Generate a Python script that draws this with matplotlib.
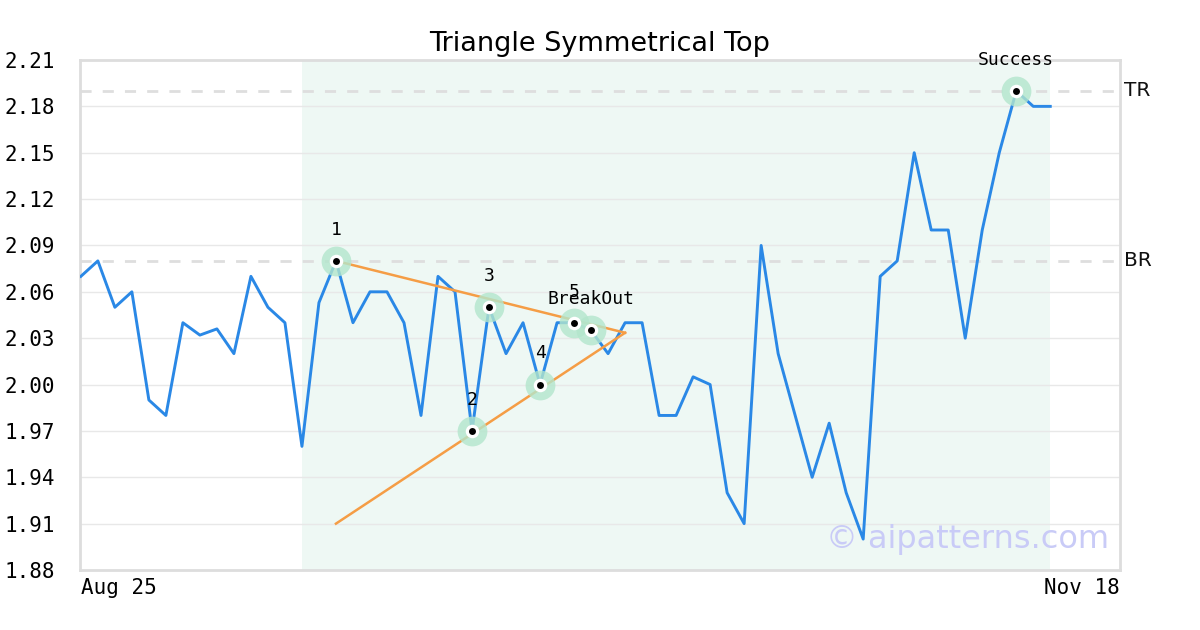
import matplotlib
matplotlib.use("Agg")
from matplotlib import pyplot as plt

# price series, one value per trading day
prices = [2.07, 2.08, 2.05, 2.06, 1.99, 1.98, 2.04, 2.032, 2.036, 2.02,
          2.07, 2.05, 2.04, 1.96, 2.053, 2.08, 2.04, 2.06, 2.06, 2.04,
          1.98, 2.07, 2.06, 1.97, 2.05, 2.02, 2.04, 2.00, 2.04, 2.04,
          2.035, 2.02, 2.04, 2.04, 1.98, 1.98, 2.005, 2.00, 1.93, 1.91,
          2.09, 2.02, 1.98, 1.94, 1.975, 1.93, 1.90, 2.07, 2.08, 2.15,
          2.10, 2.10, 2.03, 2.10, 2.15, 2.19, 2.18, 2.18]

# pattern pivots (index into prices) and their labels
pivot_idx = [15, 23, 24, 27, 29, 30, 55]
pivot_labels = ["1", "2", "3", "4", "5", "BreakOut", "Success"]

# triangle lines: (index, value) at start and apex
upper_line = [(15, 2.08), (32, 2.0335)]
lower_line = [(15, 1.91), (32, 2.0335)]

pattern_span = (13, 57)
levels = {"TR": 2.19, "BR": 2.08}
y_ticks = [1.88, 1.91, 1.94, 1.97, 2.00, 2.03, 2.06, 2.09, 2.12, 2.15, 2.18, 2.21]
x_tick_labels = ["Aug 25", "Nov 18"]
x_max = 61.1

mono = "DejaVu Sans Mono"
fig = plt.figure(figsize=(12, 6.3), dpi=100)
ax = fig.add_axes([80 / 1200, 60 / 630, 1040 / 1200, 510 / 630])

ax.axvspan(pattern_span[0], pattern_span[1], color="#eef8f4", zorder=0, lw=0)
for v in y_ticks:
    ax.axhline(v, color="#e8e8e8", lw=1, zorder=1)
for name, v in levels.items():
    ax.axhline(v, color="#dedede", lw=2, ls=(0, (4, 4)), zorder=1)
    ax.text(1.004, v, name, transform=ax.get_yaxis_transform(), va="center",
            ha="left", fontsize=14.5, color="#111111")

ax.plot(range(len(prices)), prices, color="#2a88e6", lw=2.1, zorder=3)

ax.plot([p[0] for p in upper_line], [p[1] for p in upper_line], color="#f59d45", lw=1.8, zorder=4)
ax.plot([p[0] for p in lower_line], [p[1] for p in lower_line], color="#f59d45", lw=1.8, zorder=4)

px = pivot_idx
py = [prices[i] for i in pivot_idx]
ax.scatter(px, py, s=460, color="#b3e6cc", alpha=0.8, lw=0, zorder=5)
ax.scatter(px, py, s=95, color="white", lw=0, zorder=6)
ax.scatter(px, py, s=25, color="black", lw=0, zorder=7)
for i, v, lab in zip(px, py, pivot_labels):
    ax.annotate(lab, (i, v), xytext=(0, 16), textcoords="offset points",
                ha="center", va="bottom", fontsize=13, family=mono, zorder=8)

ax.text(0.99, 0.03, "\u00a9 aipatterns.com", transform=ax.transAxes, ha="right",
        va="bottom", fontsize=23, color="#c9cbf7", zorder=2)

ax.set_xlim(-0.05, x_max)
ax.set_ylim(1.88, 2.21)
ax.set_yticks(y_ticks)
ax.set_yticklabels([f"{v:.2f}" for v in y_ticks], family=mono, fontsize=15)
ax.set_xticks([0, x_max])
ax.set_xticklabels(x_tick_labels, family=mono, fontsize=15)
ax.get_xticklabels()[0].set_ha("left")
ax.get_xticklabels()[1].set_ha("right")
ax.tick_params(axis="y", length=0, pad=18)
ax.tick_params(axis="x", length=0, pad=6)
for s in ax.spines.values():
    s.set_color("#dddddd")
    s.set_linewidth(2)

ax.set_title("Triangle Symmetrical Top", fontsize=19.5, pad=6.5)
fig.savefig("out.png", dpi=100)
